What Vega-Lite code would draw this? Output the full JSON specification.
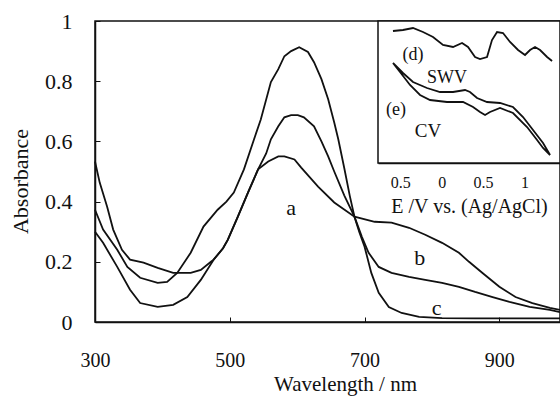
{
  "$schema": "https://vega.github.io/schema/vega-lite/v6.json",
  "autosize": {"type": "none"},
  "width": 465,
  "height": 301,
  "padding": {"left": 95, "top": 21, "right": 0, "bottom": 74},
  "background": "white",
  "config": {
    "font": "Liberation Serif",
    "view": {"stroke": "#111", "strokeWidth": 1.5},
    "axis": {"labelFont": "Liberation Serif", "titleFont": "Liberation Serif", "labelColor": "#111", "titleColor": "#111", "domainColor": "#111", "tickColor": "#111", "grid": false, "titleFontWeight": "normal", "domainWidth": 1.5, "labelFlush": false},
    "text": {"font": "Liberation Serif", "color": "#111"}
  },
  "datasets": {
    "spectra": [
      {"c": "P", "w": 300, "a": 0.373}, {"c": "P", "w": 312, "a": 0.307}, {"c": "P", "w": 333, "a": 0.24}, {"c": "P", "w": 348, "a": 0.183}, {"c": "P", "w": 367, "a": 0.147}, {"c": "P", "w": 393, "a": 0.13}, {"c": "P", "w": 407, "a": 0.133}, {"c": "P", "w": 422, "a": 0.163}, {"c": "P", "w": 442, "a": 0.23}, {"c": "P", "w": 461, "a": 0.317}, {"c": "P", "w": 482, "a": 0.373}, {"c": "P", "w": 495, "a": 0.4}, {"c": "P", "w": 506, "a": 0.43}, {"c": "P", "w": 521, "a": 0.507}, {"c": "P", "w": 536, "a": 0.607}, {"c": "P", "w": 546, "a": 0.673}, {"c": "P", "w": 561, "a": 0.797}, {"c": "P", "w": 572, "a": 0.84}, {"c": "P", "w": 581, "a": 0.883}, {"c": "P", "w": 591, "a": 0.9}, {"c": "P", "w": 603, "a": 0.913}, {"c": "P", "w": 616, "a": 0.897}, {"c": "P", "w": 625, "a": 0.863}, {"c": "P", "w": 636, "a": 0.807}, {"c": "P", "w": 646, "a": 0.74}, {"c": "P", "w": 655, "a": 0.663}, {"c": "P", "w": 661, "a": 0.607}, {"c": "P", "w": 670, "a": 0.51}, {"c": "P", "w": 678, "a": 0.42}, {"c": "P", "w": 685, "a": 0.35}, {"c": "P", "w": 692, "a": 0.3}, {"c": "P", "w": 700, "a": 0.25}, {"c": "P", "w": 710, "a": 0.163}, {"c": "P", "w": 721, "a": 0.097}, {"c": "P", "w": 736, "a": 0.05}, {"c": "P", "w": 755, "a": 0.03}, {"c": "P", "w": 781, "a": 0.017}, {"c": "P", "w": 815, "a": 0.013}, {"c": "P", "w": 864, "a": 0.012}, {"c": "P", "w": 964, "a": 0.012}, {"c": "P", "w": 990, "a": 0.012},
      {"c": "Q", "w": 300, "a": 0.3}, {"c": "Q", "w": 312, "a": 0.263}, {"c": "Q", "w": 333, "a": 0.183}, {"c": "Q", "w": 352, "a": 0.107}, {"c": "Q", "w": 367, "a": 0.063}, {"c": "Q", "w": 393, "a": 0.05}, {"c": "Q", "w": 416, "a": 0.057}, {"c": "Q", "w": 437, "a": 0.083}, {"c": "Q", "w": 457, "a": 0.14}, {"c": "Q", "w": 476, "a": 0.207}, {"c": "Q", "w": 490, "a": 0.245}, {"c": "Q", "w": 497, "a": 0.273}, {"c": "Q", "w": 512, "a": 0.35}, {"c": "Q", "w": 527, "a": 0.43}, {"c": "Q", "w": 542, "a": 0.507}, {"c": "Q", "w": 554, "a": 0.56}, {"c": "Q", "w": 561, "a": 0.607}, {"c": "Q", "w": 572, "a": 0.65}, {"c": "Q", "w": 581, "a": 0.68}, {"c": "Q", "w": 591, "a": 0.687}, {"c": "Q", "w": 601, "a": 0.687}, {"c": "Q", "w": 610, "a": 0.68}, {"c": "Q", "w": 625, "a": 0.65}, {"c": "Q", "w": 636, "a": 0.6}, {"c": "Q", "w": 646, "a": 0.55}, {"c": "Q", "w": 655, "a": 0.5}, {"c": "Q", "w": 670, "a": 0.42}, {"c": "Q", "w": 685, "a": 0.35}, {"c": "Q", "w": 696, "a": 0.283}, {"c": "Q", "w": 706, "a": 0.23}, {"c": "Q", "w": 721, "a": 0.183}, {"c": "Q", "w": 740, "a": 0.163}, {"c": "Q", "w": 766, "a": 0.15}, {"c": "Q", "w": 790, "a": 0.14}, {"c": "Q", "w": 815, "a": 0.13}, {"c": "Q", "w": 840, "a": 0.117}, {"c": "Q", "w": 864, "a": 0.1}, {"c": "Q", "w": 890, "a": 0.083}, {"c": "Q", "w": 915, "a": 0.067}, {"c": "Q", "w": 945, "a": 0.05}, {"c": "Q", "w": 975, "a": 0.04}, {"c": "Q", "w": 990, "a": 0.033},
      {"c": "R", "w": 300, "a": 0.533}, {"c": "R", "w": 307, "a": 0.463}, {"c": "R", "w": 318, "a": 0.383}, {"c": "R", "w": 327, "a": 0.307}, {"c": "R", "w": 340, "a": 0.24}, {"c": "R", "w": 352, "a": 0.207}, {"c": "R", "w": 372, "a": 0.197}, {"c": "R", "w": 393, "a": 0.18}, {"c": "R", "w": 416, "a": 0.163}, {"c": "R", "w": 442, "a": 0.163}, {"c": "R", "w": 457, "a": 0.173}, {"c": "R", "w": 472, "a": 0.2}, {"c": "R", "w": 476, "a": 0.207}, {"c": "R", "w": 490, "a": 0.245}, {"c": "R", "w": 497, "a": 0.273}, {"c": "R", "w": 512, "a": 0.35}, {"c": "R", "w": 527, "a": 0.43}, {"c": "R", "w": 542, "a": 0.507}, {"c": "R", "w": 557, "a": 0.533}, {"c": "R", "w": 572, "a": 0.55}, {"c": "R", "w": 581, "a": 0.55}, {"c": "R", "w": 596, "a": 0.54}, {"c": "R", "w": 606, "a": 0.513}, {"c": "R", "w": 631, "a": 0.45}, {"c": "R", "w": 655, "a": 0.397}, {"c": "R", "w": 685, "a": 0.35}, {"c": "R", "w": 715, "a": 0.333}, {"c": "R", "w": 740, "a": 0.33}, {"c": "R", "w": 766, "a": 0.313}, {"c": "R", "w": 790, "a": 0.29}, {"c": "R", "w": 815, "a": 0.263}, {"c": "R", "w": 840, "a": 0.23}, {"c": "R", "w": 855, "a": 0.2}, {"c": "R", "w": 875, "a": 0.163}, {"c": "R", "w": 900, "a": 0.117}, {"c": "R", "w": 924, "a": 0.083}, {"c": "R", "w": 949, "a": 0.063}, {"c": "R", "w": 975, "a": 0.047}, {"c": "R", "w": 990, "a": 0.04}
    ],
    "mainLabels": [
      {"t": "a", "w": 591, "a": 0.38},
      {"t": "b", "w": 782, "a": 0.213},
      {"t": "c", "w": 807, "a": 0.045}
    ],
    "inset": [
      {"s": "SWV", "i": 1, "v": -0.589, "cur": 1.32}, {"s": "SWV", "i": 2, "v": -0.468, "cur": 1.33}, {"s": "SWV", "i": 3, "v": -0.347, "cur": 1.35}, {"s": "SWV", "i": 4, "v": -0.226, "cur": 1.31}, {"s": "SWV", "i": 5, "v": -0.105, "cur": 1.26}, {"s": "SWV", "i": 6, "v": 0.016, "cur": 1.18}, {"s": "SWV", "i": 7, "v": 0.137, "cur": 1.16}, {"s": "SWV", "i": 8, "v": 0.246, "cur": 1.2}, {"s": "SWV", "i": 9, "v": 0.318, "cur": 1.16}, {"s": "SWV", "i": 10, "v": 0.403, "cur": 1.06}, {"s": "SWV", "i": 11, "v": 0.463, "cur": 1.04}, {"s": "SWV", "i": 12, "v": 0.548, "cur": 1.06}, {"s": "SWV", "i": 13, "v": 0.608, "cur": 1.23}, {"s": "SWV", "i": 14, "v": 0.669, "cur": 1.31}, {"s": "SWV", "i": 15, "v": 0.741, "cur": 1.3}, {"s": "SWV", "i": 16, "v": 0.826, "cur": 1.21}, {"s": "SWV", "i": 17, "v": 0.923, "cur": 1.13}, {"s": "SWV", "i": 18, "v": 1.007, "cur": 1.08}, {"s": "SWV", "i": 19, "v": 1.068, "cur": 1.13}, {"s": "SWV", "i": 20, "v": 1.128, "cur": 1.16}, {"s": "SWV", "i": 21, "v": 1.189, "cur": 1.13}, {"s": "SWV", "i": 22, "v": 1.274, "cur": 1.06}, {"s": "SWV", "i": 23, "v": 1.334, "cur": 1.02},
      {"s": "CV", "i": 1, "v": -0.589, "cur": 1.0}, {"s": "CV", "i": 2, "v": -0.468, "cur": 0.9}, {"s": "CV", "i": 3, "v": -0.347, "cur": 0.81}, {"s": "CV", "i": 4, "v": -0.178, "cur": 0.75}, {"s": "CV", "i": 5, "v": -0.02, "cur": 0.71}, {"s": "CV", "i": 6, "v": 0.137, "cur": 0.71}, {"s": "CV", "i": 7, "v": 0.282, "cur": 0.73}, {"s": "CV", "i": 8, "v": 0.342, "cur": 0.71}, {"s": "CV", "i": 9, "v": 0.427, "cur": 0.65}, {"s": "CV", "i": 10, "v": 0.548, "cur": 0.61}, {"s": "CV", "i": 11, "v": 0.705, "cur": 0.6}, {"s": "CV", "i": 12, "v": 0.862, "cur": 0.56}, {"s": "CV", "i": 13, "v": 0.983, "cur": 0.46}, {"s": "CV", "i": 14, "v": 1.104, "cur": 0.33}, {"s": "CV", "i": 15, "v": 1.225, "cur": 0.2}, {"s": "CV", "i": 16, "v": 1.31, "cur": 0.08}, {"s": "CV", "i": 17, "v": 1.225, "cur": 0.15}, {"s": "CV", "i": 18, "v": 1.153, "cur": 0.23}, {"s": "CV", "i": 19, "v": 1.032, "cur": 0.36}, {"s": "CV", "i": 20, "v": 0.862, "cur": 0.5}, {"s": "CV", "i": 21, "v": 0.705, "cur": 0.55}, {"s": "CV", "i": 22, "v": 0.584, "cur": 0.51}, {"s": "CV", "i": 23, "v": 0.524, "cur": 0.48}, {"s": "CV", "i": 24, "v": 0.463, "cur": 0.51}, {"s": "CV", "i": 25, "v": 0.379, "cur": 0.56}, {"s": "CV", "i": 26, "v": 0.258, "cur": 0.61}, {"s": "CV", "i": 27, "v": 0.064, "cur": 0.61}, {"s": "CV", "i": 28, "v": -0.141, "cur": 0.63}, {"s": "CV", "i": 29, "v": -0.262, "cur": 0.68}, {"s": "CV", "i": 30, "v": -0.383, "cur": 0.78}, {"s": "CV", "i": 31, "v": -0.504, "cur": 0.91}, {"s": "CV", "i": 32, "v": -0.589, "cur": 1.0}
    ],
    "insetLabels": [
      {"t": "(d)", "v": -0.347, "cur": 1.08, "fs": 18},
      {"t": "SWV", "v": 0.064, "cur": 0.85, "fs": 18},
      {"t": "(e)", "v": -0.552, "cur": 0.53, "fs": 18},
      {"t": "CV", "v": -0.165, "cur": 0.32, "fs": 19}
    ],
    "box": [{"x1": -0.77, "x2": 1.43, "y1": 0, "y2": 1.42}]
  },
  "layer": [
    {
      "layer": [
        {
          "data": {"name": "spectra"},
          "mark": {"type": "line", "strokeWidth": 1.8, "color": "#111"},
          "encoding": {
            "x": {"field": "w", "type": "quantitative", "scale": {"domain": [300, 990], "nice": false, "zero": false},
                  "axis": {"values": [300, 500, 700, 900], "title": "Wavelength / nm", "labelFont": "Liberation Serif", "titleFont": "Liberation Serif", "labelFontSize": 20, "titleFontSize": 21, "labelPadding": 33, "labelDx": 7, "labelFlush": false, "tickSize": -5, "titleX": 250, "titleY": 68, "titleBaseline": "alphabetic"}},
            "y": {"field": "a", "type": "quantitative", "scale": {"domain": [0, 1], "nice": false},
                  "axis": {"values": [0, 0.2, 0.4, 0.6, 0.8, 1], "format": "~g", "title": "Absorbance", "labelFont": "Liberation Serif", "titleFont": "Liberation Serif", "labelFontSize": 22, "titleFontSize": 22, "labelPadding": 28, "labelFlush": false, "tickSize": -5, "titleY": 160, "titlePadding": 12}},
            "detail": {"field": "c"},
            "order": {"field": "w", "type": "quantitative"}
          }
        },
        {
          "data": {"name": "mainLabels"},
          "mark": {"type": "text", "fontSize": 22, "baseline": "middle", "align": "center", "font": "Liberation Serif"},
          "encoding": {
            "x": {"field": "w", "type": "quantitative"},
            "y": {"field": "a", "type": "quantitative"},
            "text": {"field": "t"}
          }
        }
      ]
    },
    {
      "layer": [
        {
          "data": {"name": "box"},
          "mark": {"type": "rect", "fill": "white", "stroke": "#111", "strokeWidth": 1.5},
          "encoding": {
            "x": {"field": "x1", "type": "quantitative", "scale": {"domain": [-0.77, 1.43], "range": [283, 465], "nice": false, "zero": false},
                  "axis": {"orient": "bottom", "offset": -159, "values": [-0.5, 0, 0.5, 1], "labelExpr": "format(abs(datum.value), '~g')", "labelFont": "Liberation Serif", "titleFont": "Liberation Serif", "labelFontSize": 16, "labelPadding": 15, "labelDx": 6, "labelFlush": false, "tickSize": -4, "title": "E /V vs. (Ag/AgCl)", "titleFontSize": 20, "titlePadding": 6}},
            "x2": {"field": "x2"},
            "y": {"field": "y1", "type": "quantitative", "scale": {"domain": [0, 1.42], "range": [142, 0], "nice": false, "zero": false}, "axis": null},
            "y2": {"field": "y2"}
          }
        },
        {
          "data": {"name": "inset"},
          "mark": {"type": "line", "strokeWidth": 1.8, "color": "#111"},
          "encoding": {
            "x": {"field": "v", "type": "quantitative"},
            "y": {"field": "cur", "type": "quantitative"},
            "detail": {"field": "s"},
            "order": {"field": "i", "type": "quantitative"}
          }
        },
        {
          "data": {"name": "insetLabels"},
          "mark": {"type": "text", "baseline": "middle", "align": "center", "font": "Liberation Serif"},
          "encoding": {
            "x": {"field": "v", "type": "quantitative"},
            "y": {"field": "cur", "type": "quantitative"},
            "text": {"field": "t"},
            "size": {"field": "fs", "type": "quantitative", "scale": null}
          }
        }
      ]
    }
  ],
  "resolve": {"scale": {"x": "independent", "y": "independent"}, "axis": {"x": "independent", "y": "independent"}}
}
